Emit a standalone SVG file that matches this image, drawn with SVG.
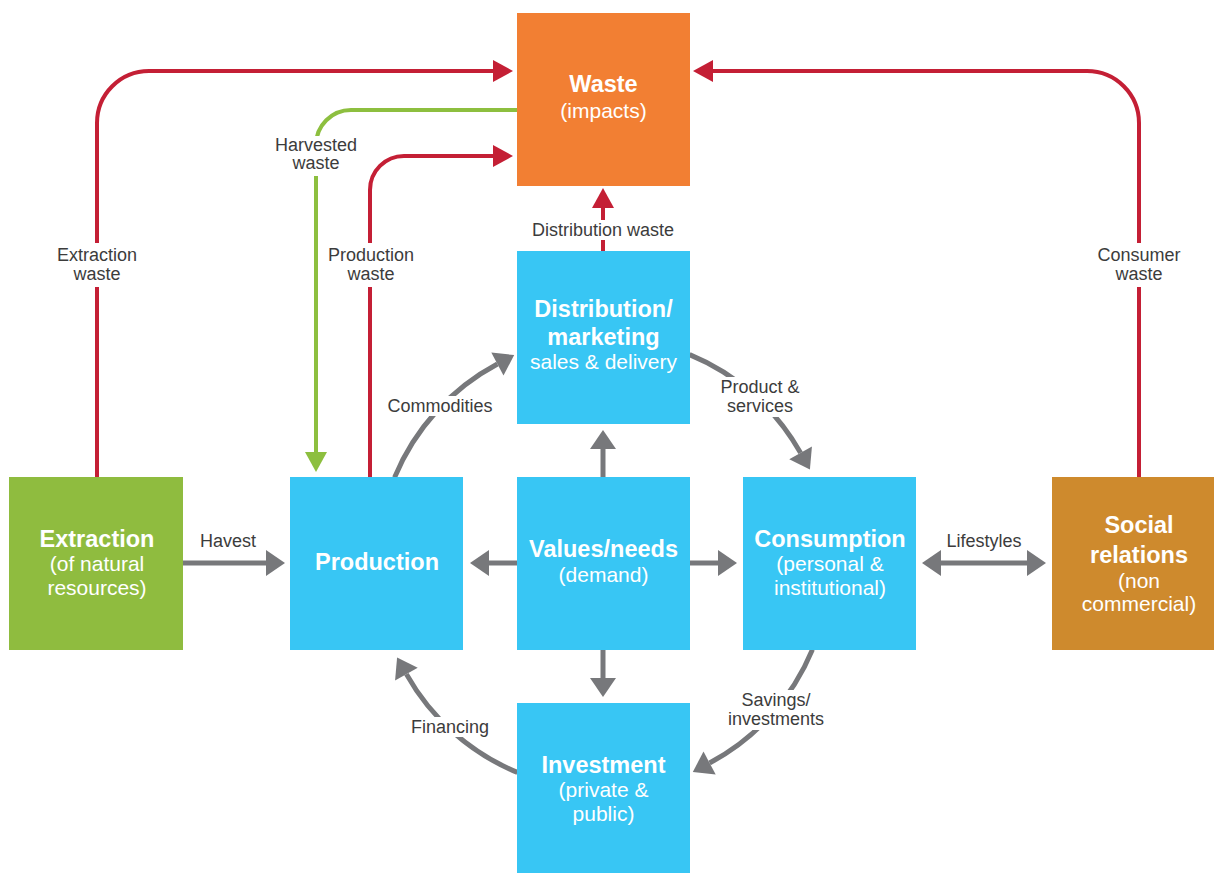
<svg xmlns="http://www.w3.org/2000/svg" width="1214" height="873" viewBox="0 0 1214 873">
<style>
.box{stroke:none}
.blue{fill:#38C6F4}
.bt{font-family:"Liberation Sans",Arial,sans-serif;font-size:23.5px;font-weight:bold;fill:#fff;text-anchor:middle}
.rt{font-family:"Liberation Sans",Arial,sans-serif;font-size:21px;fill:#fff;text-anchor:middle}
.lb{font-family:"Liberation Sans",Arial,sans-serif;font-size:18px;fill:#3C3C3C;text-anchor:middle}
.red{fill:none;stroke:#C41F35;stroke-width:4}
.grn{fill:none;stroke:#8DBF3F;stroke-width:4}
.gry{fill:none;stroke:#77787B;stroke-width:5}
.bg{fill:#fff}
</style>
<defs>
<marker id="ar" markerUnits="userSpaceOnUse" markerWidth="21" markerHeight="23" refX="0" refY="11" orient="auto" overflow="visible"><path d="M0,0 L20,11 L0,22 Z" fill="#C41F35"/></marker>
<marker id="ag" markerUnits="userSpaceOnUse" markerWidth="21" markerHeight="23" refX="0" refY="11" orient="auto" overflow="visible"><path d="M0,0 L20,11 L0,22 Z" fill="#8DBF3F"/></marker>
<marker id="ay" markerUnits="userSpaceOnUse" markerWidth="20" markerHeight="27" refX="0" refY="13" orient="auto-start-reverse" overflow="visible"><path d="M0,0 L19,13 L0,26 Z" fill="#77787B"/></marker>
</defs>
<rect width="1214" height="873" fill="#fff"/>

<g id="connectors">
<path class="red" d="M97,477 V123 A52,52 0 0 1 149,71 H493" marker-end="url(#ar)"/>
<path class="red" d="M370,477 V190 A34,34 0 0 1 404,156 H493" marker-end="url(#ar)"/>
<path class="red" d="M1139,477 V123 A52,52 0 0 0 1087,71 H713" marker-end="url(#ar)"/>
<path class="red" d="M603,251 V208" marker-end="url(#ar)"/>
<path class="grn" d="M517,110 H351 A35,35 0 0 0 316,145 V452" marker-end="url(#ag)"/>
<path class="gry" d="M183,563 H266" marker-end="url(#ay)"/>
<path class="gry" d="M517,563 H489" marker-end="url(#ay)"/>
<path class="gry" d="M690,563 H718" marker-end="url(#ay)"/>
<path class="gry" d="M603,477 V449" marker-end="url(#ay)"/>
<path class="gry" d="M603,650 V678" marker-end="url(#ay)"/>
<path class="gry" d="M941,563 H1027" marker-start="url(#ay)" marker-end="url(#ay)"/>
<path class="gry" d="M394.6,477.4 A226,226 0 0 1 497.4,364" marker-end="url(#ay)"/>
<path class="gry" d="M689.6,354.6 A226,226 0 0 1 800.6,452.9" marker-end="url(#ay)"/>
<path class="gry" d="M812.4,649.6 A226,226 0 0 1 709.6,763" marker-end="url(#ay)"/>
<path class="gry" d="M517.4,772.4 A226,226 0 0 1 406.4,674.1" marker-end="url(#ay)"/>
</g>

<g id="labels">
<rect class="bg" x="52" y="243" width="90" height="44"/>
<text class="lb" x="97" y="261">Extraction</text><text class="lb" x="97" y="280">waste</text>
<rect class="bg" x="272" y="136" width="88" height="40"/>
<text class="lb" x="316" y="151">Harvested</text><text class="lb" x="316" y="169">waste</text>
<rect class="bg" x="324" y="243" width="94" height="44"/>
<text class="lb" x="371" y="261">Production</text><text class="lb" x="371" y="280">waste</text>
<rect class="bg" x="1094" y="243" width="90" height="44"/>
<text class="lb" x="1139" y="261">Consumer</text><text class="lb" x="1139" y="280">waste</text>
<rect class="bg" x="525" y="220" width="156" height="20"/>
<text class="lb" x="603" y="236">Distribution waste</text>
<rect class="bg" x="383" y="396" width="114" height="20"/>
<text class="lb" x="440" y="412">Commodities</text>
<rect class="bg" x="715" y="377" width="90" height="40"/>
<text class="lb" x="760" y="393">Product &amp;</text><text class="lb" x="760" y="412">services</text>
<text class="lb" x="228" y="547">Havest</text>
<text class="lb" x="984" y="547">Lifestyles</text>
<rect class="bg" x="722" y="690" width="108" height="40"/>
<text class="lb" x="776" y="706">Savings/</text><text class="lb" x="776" y="725">investments</text>
<rect class="bg" x="404" y="717" width="92" height="20"/>
<text class="lb" x="450" y="733">Financing</text>
</g>

<g id="waste"><rect class="box" x="517" y="13" width="173" height="173" fill="#F27F33"/>
<text class="bt" x="603.5" y="92">Waste</text><text class="rt" x="603.5" y="118">(impacts)</text></g>

<g id="distribution"><rect class="box blue" x="517" y="251" width="173" height="173"/>
<text class="bt" x="603.5" y="317">Distribution/</text><text class="bt" x="603.5" y="345">marketing</text><text class="rt" x="603.5" y="369">sales &amp; delivery</text></g>

<g id="extraction"><rect class="box" x="9" y="477" width="174" height="173" fill="#8FBC3F"/>
<text class="bt" x="97" y="547">Extraction</text><text class="rt" x="97" y="571">(of natural</text><text class="rt" x="97" y="595">resources)</text></g>

<g id="production"><rect class="box blue" x="290" y="477" width="173" height="173"/>
<text class="bt" x="377" y="570">Production</text></g>

<g id="values"><rect class="box blue" x="517" y="477" width="173" height="173"/>
<text class="bt" x="603.5" y="557">Values/needs</text><text class="rt" x="603.5" y="582">(demand)</text></g>

<g id="consumption"><rect class="box blue" x="743" y="477" width="173" height="173"/>
<text class="bt" x="830" y="547">Consumption</text><text class="rt" x="830" y="571">(personal &amp;</text><text class="rt" x="830" y="595">institutional)</text></g>

<g id="social"><rect class="box" x="1052" y="477" width="174" height="173" fill="#CE8A2D"/>
<text class="bt" x="1139" y="533">Social</text><text class="bt" x="1139" y="563">relations</text><text class="rt" x="1139" y="588">(non</text><text class="rt" x="1139" y="611">commercial)</text></g>

<g id="investment"><rect class="box blue" x="517" y="703" width="173" height="173"/>
<text class="bt" x="603.5" y="773">Investment</text><text class="rt" x="603.5" y="797">(private &amp;</text><text class="rt" x="603.5" y="821">public)</text></g>
</svg>
